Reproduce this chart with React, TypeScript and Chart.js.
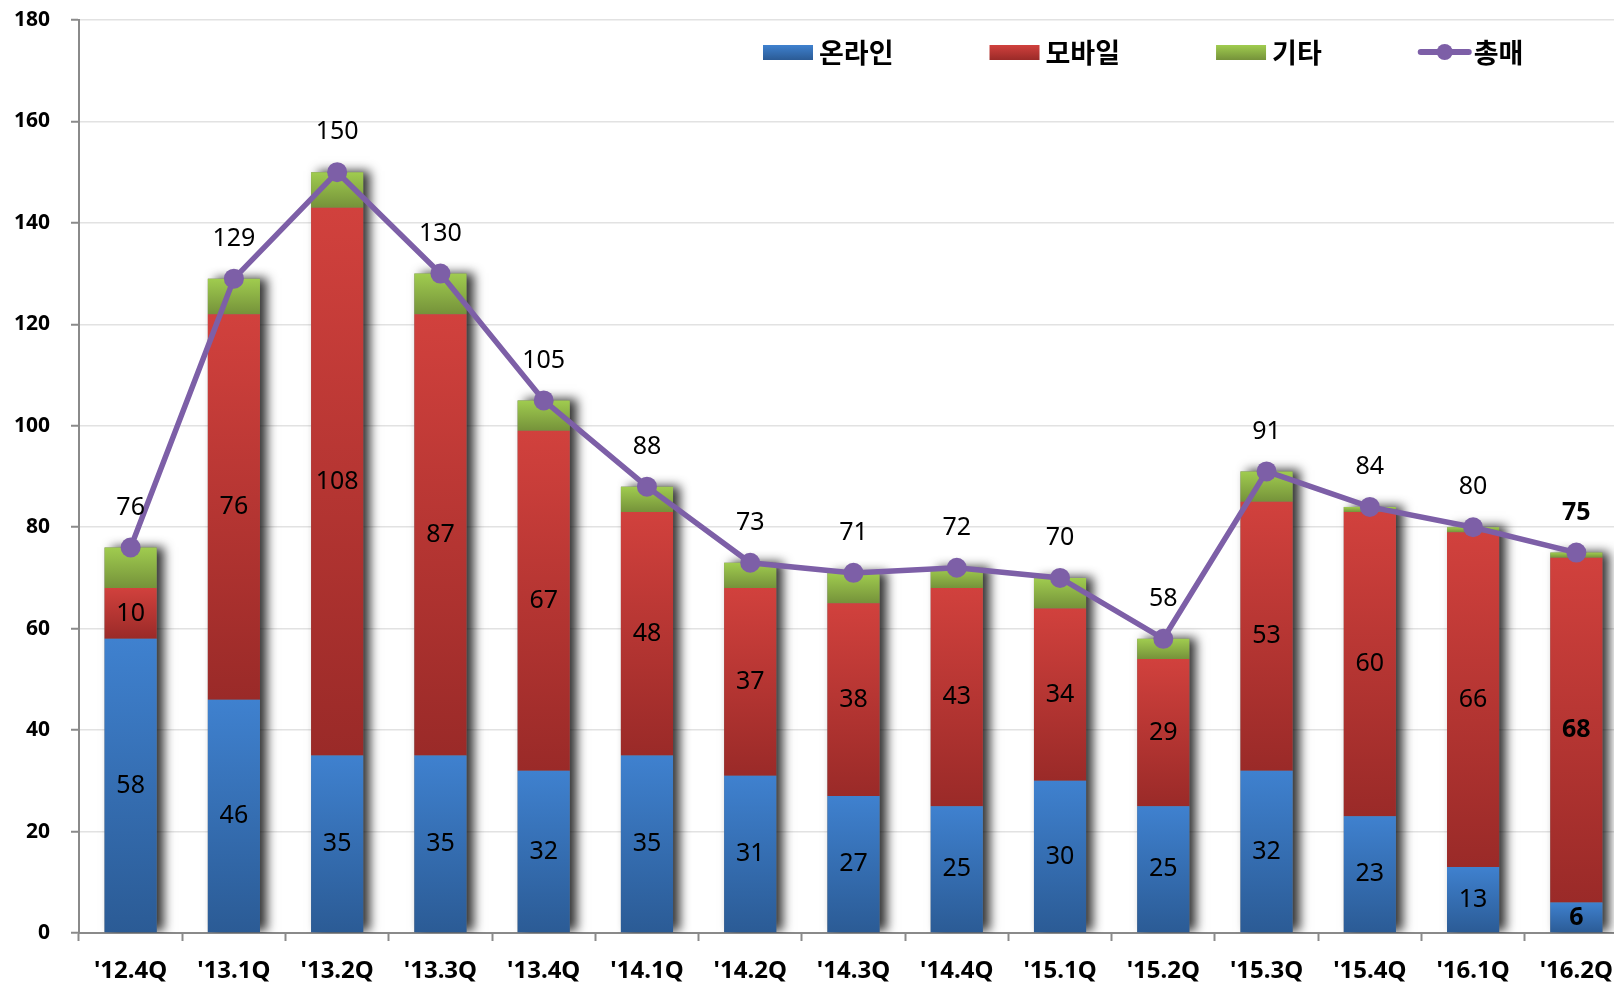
import React, { useEffect, useRef } from "react";
import { Chart, registerables } from "chart.js";

Chart.register(...registerables);

const categories = ["'12.4Q", "'13.1Q", "'13.2Q", "'13.3Q", "'13.4Q", "'14.1Q", "'14.2Q", "'14.3Q", "'14.4Q", "'15.1Q", "'15.2Q", "'15.3Q", "'15.4Q", "'16.1Q", "'16.2Q"];
const online = [58, 46, 35, 35, 32, 35, 31, 27, 25, 30, 25, 32, 23, 13, 6];
const mobile = [10, 76, 108, 87, 67, 48, 37, 38, 43, 34, 29, 53, 60, 66, 68];
const other = [8, 7, 7, 8, 6, 5, 5, 6, 4, 6, 4, 6, 1, 1, 1];
const total = [76, 129, 150, 130, 105, 88, 73, 71, 72, 70, 58, 91, 84, 80, 75];
const seriesNames = ["온라인", "모바일", "기타", "총매"];
const yMax = 180;
const yStep = 20;

const stackSeries = [online, mobile, other];
const gradColors: [string, string][] = [
  ["#3F81CF", "#2B5B95"],
  ["#D1413D", "#9A2A28"],
  ["#A0CC4F", "#75923A"],
];
const lineColor = "#7D5FA7";
const FONT = "'Noto Sans', 'Noto Sans CJK KR', sans-serif";
const KFONT = "'Noto Sans CJK KR', 'Noto Sans', sans-serif";

function segGradient(dsIndex: number) {
  return (c: any) => {
    const [light, dark] = gradColors[dsIndex];
    const chart = c.chart;
    const y = chart.scales && chart.scales.y;
    if (!y || c.type !== "data") return dark;
    const i = c.dataIndex;
    let start = 0;
    for (let k = 0; k < dsIndex; k++) start += stackSeries[k][i];
    const end = start + stackSeries[dsIndex][i];
    const top = y.getPixelForValue(end);
    const bot = y.getPixelForValue(start);
    if (!isFinite(top) || !isFinite(bot) || top === bot) return dark;
    const g = chart.ctx.createLinearGradient(0, top, 0, bot);
    g.addColorStop(0, light);
    g.addColorStop(1, dark);
    return g;
  };
}

const shadowPlugin = {
  id: "barShadow",
  beforeDatasetsDraw(chart: any) {
    const ctx = chart.ctx;
    const ca = chart.chartArea;
    const m0 = chart.getDatasetMeta(0);
    const m2 = chart.getDatasetMeta(2);
    ctx.save();
    ctx.beginPath();
    ctx.rect(ca.left, ca.top - 20, ca.right - ca.left + 30, ca.bottom - ca.top + 20);
    ctx.clip();
    ctx.shadowColor = "rgba(0,0,0,0.8)";
    ctx.shadowBlur = 10;
    ctx.shadowOffsetX = 7;
    ctx.shadowOffsetY = -1;
    ctx.fillStyle = "#777";
    m0.data.forEach((el: any, i: number) => {
      const p = el.getProps(["x", "base", "width"], true);
      const t = m2.data[i].getProps(["y"], true);
      ctx.fillRect(p.x - p.width / 2, t.y, p.width, p.base - t.y);
    });
    ctx.restore();
  },
};

const labelPlugin = {
  id: "valueLabels",
  afterDatasetsDraw(chart: any) {
    const ctx = chart.ctx;
    ctx.save();
    ctx.fillStyle = "#000";
    ctx.textAlign = "center";
    ctx.textBaseline = "middle";
    const last = categories.length - 1;
    [0, 1].forEach((di) => {
      const meta = chart.getDatasetMeta(di);
      meta.data.forEach((el: any, i: number) => {
        const p = el.getProps(["x", "y", "base"], true);
        ctx.font = (i === last ? "bold " : "") + "25px " + FONT;
        ctx.fillText(String(stackSeries[di][i]), p.x, (p.y + p.base) / 2);
      });
    });
    const lm = chart.getDatasetMeta(3);
    lm.data.forEach((el: any, i: number) => {
      const p = el.getProps(["x", "y"], true);
      ctx.font = (i === last ? "bold " : "") + "25px " + FONT;
      ctx.fillText(String(total[i]), p.x, p.y - 40);
    });
    ctx.restore();
  },
};

const legendPlugin = {
  id: "customLegend",
  afterDraw(chart: any) {
    const ctx = chart.ctx;
    ctx.save();
    let x = 763;
    const cy = 52;
    ctx.font = "bold 27px " + KFONT;
    ctx.textBaseline = "middle";
    ctx.textAlign = "left";
    seriesNames.forEach((name, i) => {
      if (i < 3) {
        const [light, dark] = gradColors[i];
        const g = ctx.createLinearGradient(0, cy - 7, 0, cy + 8);
        g.addColorStop(0, light);
        g.addColorStop(1, dark);
        ctx.fillStyle = g;
        ctx.fillRect(x, cy - 7, 50, 15);
      } else {
        ctx.strokeStyle = lineColor;
        ctx.lineWidth = 6;
        ctx.lineCap = "round";
        ctx.beginPath();
        ctx.moveTo(x + 3, cy);
        ctx.lineTo(x + 51, cy);
        ctx.stroke();
        ctx.fillStyle = lineColor;
        ctx.beginPath();
        ctx.arc(x + 27, cy, 8, 0, Math.PI * 2);
        ctx.fill();
      }
      ctx.fillStyle = "#000";
      const tx = x + 56;
      ctx.fillText(name, tx, cy + 1);
      x = tx + ctx.measureText(name).width + 96;
    });
    ctx.restore();
  },
};

export default function App() {
  const ref = useRef<HTMLCanvasElement | null>(null);
  useEffect(() => {
    if (!ref.current) return;
    const chart = new Chart(ref.current, {
      type: "bar",
      data: {
        labels: categories,
        datasets: [
          { type: "bar", label: seriesNames[0], data: online, backgroundColor: segGradient(0) as any, order: 1, stack: "s" },
          { type: "bar", label: seriesNames[1], data: mobile, backgroundColor: segGradient(1) as any, order: 1, stack: "s" },
          { type: "bar", label: seriesNames[2], data: other, backgroundColor: segGradient(2) as any, order: 1, stack: "s" },
          {
            type: "line",
            label: seriesNames[3],
            data: total,
            borderColor: lineColor,
            backgroundColor: lineColor,
            borderWidth: 5.5,
            pointRadius: 10,
            pointBorderWidth: 0,
            pointBackgroundColor: lineColor,
            tension: 0,
            order: 0,
          } as any,
        ],
      },
      options: {
        responsive: false,
        animation: false,
        events: [],
        layout: { autoPadding: false, padding: { top: 20, right: 12, left: 0, bottom: 0 } } as any,
        datasets: { bar: { categoryPercentage: 1, barPercentage: 0.505 } } as any,
        plugins: { legend: { display: false }, tooltip: { enabled: false } },
        scales: {
          x: {
            stacked: true,
            offset: true,
            grid: {
              display: true,
              drawOnChartArea: false,
              drawTicks: true,
              offset: true,
              tickLength: 8,
              tickColor: "#8a8a8a",
              tickWidth: 2,
            } as any,
            border: { color: "#8a8a8a", width: 2 },
            ticks: { color: "#000", font: { family: FONT, size: 24, weight: "bold" }, padding: 16, maxRotation: 0, autoSkip: false },
            afterFit: (s: any) => { s.height = 52; s.paddingLeft = 0; s.paddingRight = 0; },
          },
          y: {
            stacked: true,
            min: 0,
            max: yMax,
            grid: { color: "#e2e2e2", lineWidth: 1.5, tickLength: 8, tickColor: "#8a8a8a", tickWidth: 2 } as any,
            border: { color: "#8a8a8a", width: 2 },
            ticks: { stepSize: yStep, color: "#000", font: { family: FONT, size: 21, weight: "bold" }, padding: 21 },
            afterFit: (s: any) => { s.width = 79; s.paddingTop = 0; s.paddingBottom = 0; },
          },
        },
      },
      plugins: [shadowPlugin, labelPlugin, legendPlugin],
    });
    return () => chart.destroy();
  }, []);
  return (
    <div style={{ position: "fixed", left: 0, top: 0, width: 1614, height: 985, overflow: "hidden", background: "#fff" }}>
      <canvas ref={ref} width={1640} height={985} style={{ display: "block" }} />
    </div>
  );
}
